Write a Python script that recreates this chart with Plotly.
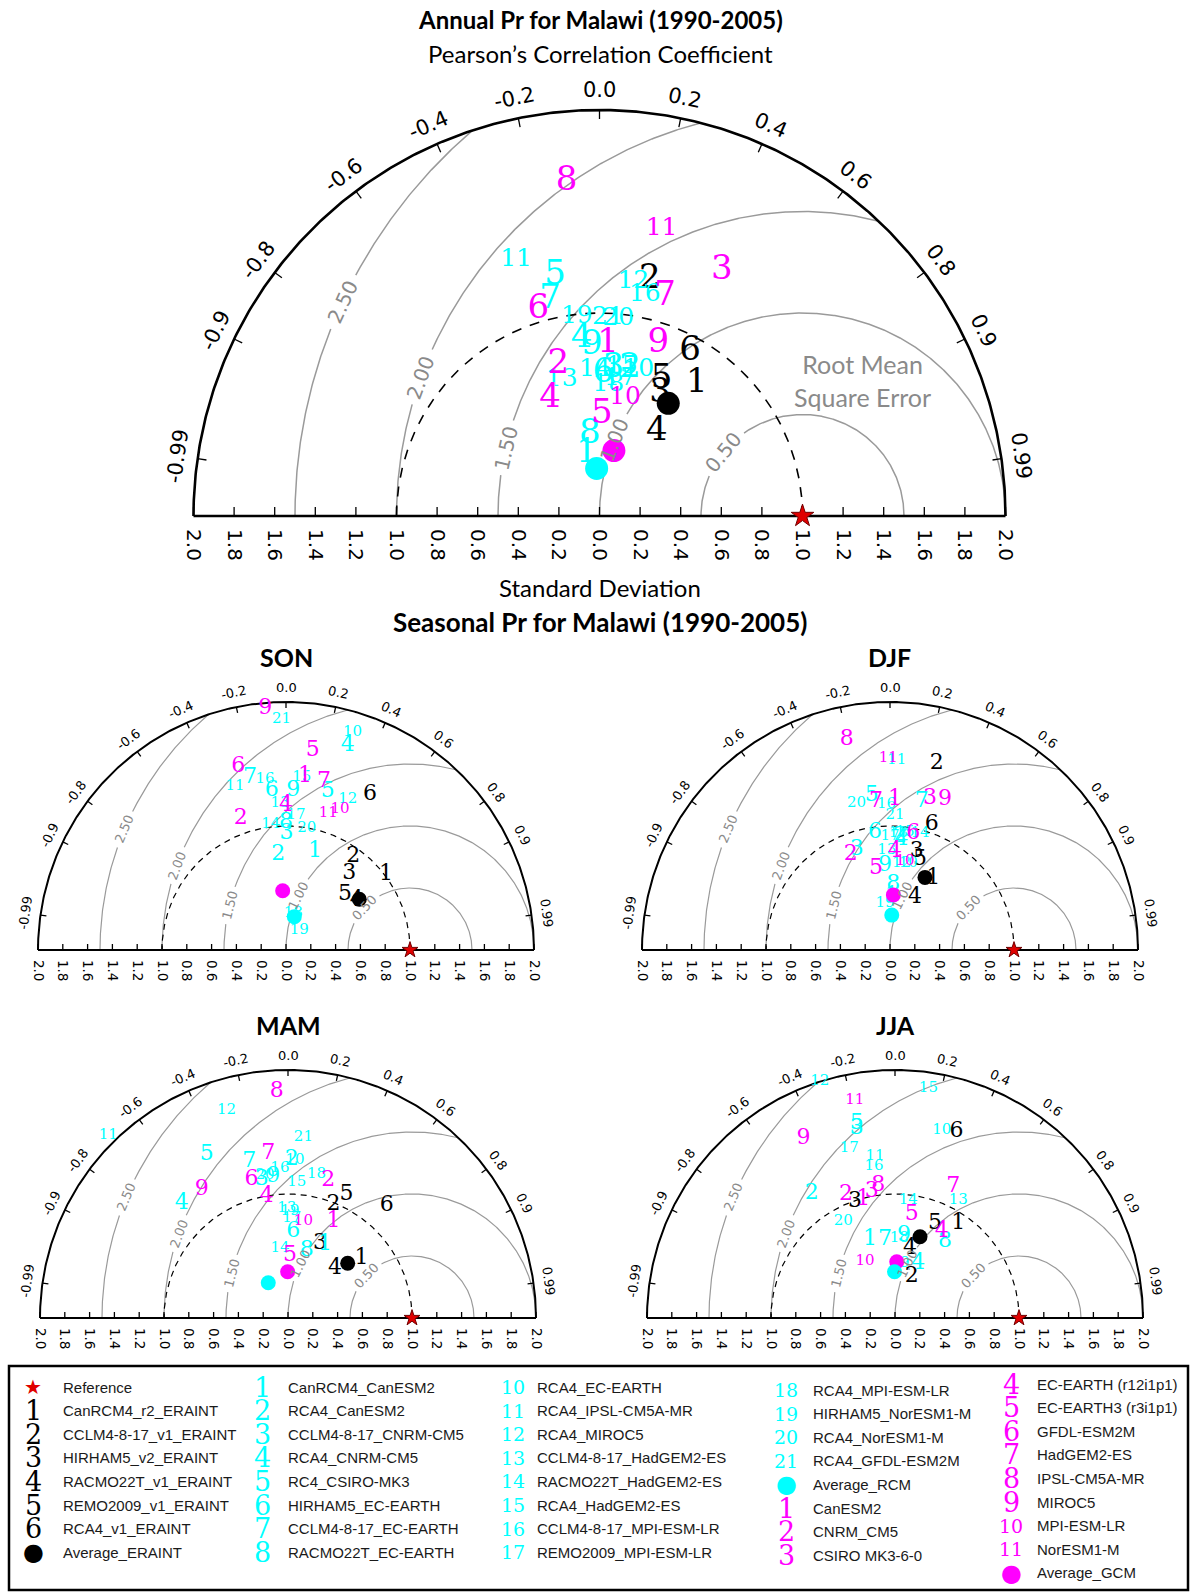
import numpy as np
import plotly.graph_objects as go

W, H = 1192, 1594
CYAN, MAG, BLK = "#00ffff", "#ff00ff", "#000000"

# ---------------- tick definitions ----------------
corr_tick_vals = [-0.99, -0.9, -0.8, -0.6, -0.4, -0.2, 0.0, 0.2, 0.4, 0.6, 0.8, 0.9, 0.99]
corr_tick_text = ["-0.99", "-0.9", "-0.8", "-0.6", "-0.4", "-0.2", "0.0", "0.2", "0.4", "0.6", "0.8", "0.9", "0.99"]
std_tick_vals = [-2.0, -1.8, -1.6, -1.4, -1.2, -1.0, -0.8, -0.6, -0.4, -0.2, 0.0,
                 0.2, 0.4, 0.6, 0.8, 1.0, 1.2, 1.4, 1.6, 1.8, 2.0]
std_tick_text = ["2.0", "1.8", "1.6", "1.4", "1.2", "1.0", "0.8", "0.6", "0.4", "0.2", "0.0",
                 "0.2", "0.4", "0.6", "0.8", "1.0", "1.2", "1.4", "1.6", "1.8", "2.0"]
rmse_levels = [0.5, 1.0, 1.5, 2.0, 2.5]
rmse_text = ["0.50", "1.00", "1.50", "2.00", "2.50"]
ref_std, ref_corr = 1.0, 1.0

# ---------------- data: (std, corr) ----------------
# Annual
annual_eraint_id = [1, 2, 3, 4, 5, 6]
annual_eraint_std = [0.811, 1.189, 0.673, 0.502, 0.737, 0.924]
annual_eraint_corr = [0.591, 0.209, 0.443, 0.562, 0.415, 0.483]
annual_eraint_avg = [0.650, 0.521]
annual_rcm_id = list(range(1, 22))
annual_rcm_std = [0.315, 0.743, 0.731, 0.879, 1.207, 0.703, 1.092, 0.402, 0.843, 0.744, 1.326,
                  1.166, 0.695, 0.719, 0.744, 1.112, 0.685, 0.646, 0.988, 0.978, 0.976]
annual_rcm_corr = [-0.200, 0.202, 0.093, -0.100, -0.181, 0.027, -0.223, -0.117, -0.045, 0.257, -0.310,
                   0.143, -0.268, -0.031, 0.147, 0.201, 0.147, 0.067, -0.113, 0.095, 0.043]
annual_rcm_avg = [0.235, -0.060]
annual_gcm_id = list(range(1, 12))
annual_gcm_std = [0.852, 0.771, 1.353, 0.629, 0.498, 1.059, 1.127, 1.655, 0.899, 0.594, 1.450]
annual_gcm_corr = [0.050, -0.263, 0.445, -0.388, 0.022, -0.284, 0.287, -0.098, 0.323, 0.212, 0.211]
annual_gcm_avg = [0.330, 0.215]

# SON
son_eraint_id = [1, 2, 3, 4, 5, 6]
son_eraint_std = [1.008, 0.928, 0.803, 0.698, 0.651, 1.422]
son_eraint_corr = [0.800, 0.585, 0.636, 0.817, 0.731, 0.476]
son_eraint_avg = [0.719, 0.822]
son_rcm_id = list(range(1, 22))
son_rcm_std = [0.827, 0.769, 0.941, 1.719, 1.320, 1.295, 1.423, 1.027, 1.286, 1.840, 1.380,
               1.313, 1.184, 1.021, 1.399, 1.387, 1.092, 0.302, 0.189, 0.995, 1.860]
son_rcm_corr = [0.283, -0.081, 0.005, 0.290, 0.255, -0.089, -0.204, 0.000, 0.046, 0.292, -0.298,
                0.379, -0.041, -0.120, 0.091, -0.122, 0.074, 0.195, 0.566, 0.168, -0.019]
son_rcm_avg = [0.277, 0.242]
son_gcm_id = [1, 2, 4, 5, 6, 7, 9, 10, 11]
son_gcm_std = [1.406, 1.123, 1.169, 1.627, 1.527, 1.391, 1.956, 1.215, 1.154]
son_gcm_corr = [0.109, -0.325, 0.000, 0.132, -0.252, 0.220, -0.086, 0.358, 0.296]
son_gcm_avg = [0.479, -0.056]

# DJF
djf_eraint_id = [1, 2, 3, 4, 5, 6]
djf_eraint_std = [0.675, 1.552, 0.822, 0.471, 0.765, 1.063]
djf_eraint_corr = [0.517, 0.243, 0.262, 0.429, 0.316, 0.316]
djf_eraint_avg = [0.650, 0.434]
djf_rcm_id = list(range(1, 22))
djf_rcm_std = [0.430, 0.918, 0.850, 0.892, 1.251, 0.954, 1.223, 0.525, 0.686, 0.719, 1.533,
               0.705, 0.806, 0.976, 0.954, 1.177, 0.914, 0.943, 0.379, 1.213, 1.090]
djf_rcm_corr = [0.033, 0.088, -0.316, 0.105, -0.118, -0.127, 0.209, 0.051, -0.058, 0.206, 0.035,
                0.133, -0.033, 0.248, 0.127, -0.023, 0.000, 0.071, -0.106, -0.222, 0.037]
djf_rcm_avg = [0.282, 0.050]
djf_gcm_id = list(range(1, 12))
djf_gcm_std = [1.211, 0.829, 1.260, 0.794, 0.669, 0.960, 1.201, 1.730, 1.296, 0.722, 1.546]
djf_gcm_corr = [0.033, -0.382, 0.256, 0.050, -0.169, 0.196, -0.094, -0.202, 0.343, 0.168, -0.009]
djf_gcm_avg = [0.445, 0.061]

# MAM
mam_eraint_id = [1, 2, 3, 4, 5, 6]
mam_eraint_std = [0.764, 0.989, 0.655, 0.552, 1.099, 1.210]
mam_eraint_corr = [0.777, 0.370, 0.394, 0.687, 0.430, 0.658]
mam_eraint_avg = [0.653, 0.737]
mam_rcm_id = list(range(1, 22))
mam_rcm_std = [0.660, 1.280, 1.133, 1.261, 1.470, 0.697, 1.299, 0.568, 1.146, 1.275, 2.068,
               1.749, 0.885, 0.566, 1.101, 1.209, 0.805, 1.184, 0.857, 1.168, 1.462]
mam_rcm_corr = [0.452, 0.023, -0.187, -0.680, -0.446, 0.062, -0.240, 0.266, -0.103, 0.044, -0.701,
                -0.283, -0.012, -0.115, 0.064, -0.054, 0.037, 0.195, 0.019, -0.158, 0.085]
mam_rcm_avg = [0.326, -0.488]
mam_gcm_id = [1, 2, 4, 5, 6, 7, 8, 9, 10]
mam_gcm_std = [0.859, 1.159, 0.993, 0.508, 1.151, 1.337, 1.827, 1.245, 0.787]
mam_gcm_corr = [0.426, 0.280, -0.173, 0.031, -0.255, -0.119, -0.050, -0.559, 0.158]
mam_gcm_avg = [0.373, -0.008]

# JJA
jja_eraint_id = [1, 2, 3, 4, 5, 6]
jja_eraint_std = [0.919, 0.359, 0.992, 0.575, 0.829, 1.582]
jja_eraint_corr = [0.556, 0.376, -0.326, 0.210, 0.390, 0.314]
jja_eraint_avg = [0.686, 0.294]
jja_rcm_id = [1, 2, 3, 4, 5, 7, 8, 9, 10, 11, 12, 13, 14, 15, 16, 17, 18, 19, 20]
jja_rcm_std = [0.661, 1.210, 1.561, 0.479, 1.600, 0.640, 0.735, 0.673, 1.557, 1.311, 2.000,
               1.080, 0.958, 1.871, 1.238, 1.418, 0.644, 0.443, 0.882]
jja_rcm_corr = [-0.306, -0.555, -0.198, 0.392, -0.193, -0.127, 0.548, 0.108, 0.242, -0.123, -0.303,
                0.473, 0.112, 0.144, -0.137, -0.260, 0.054, 0.090, -0.473]
jja_rcm_avg = [0.373, -0.010]
jja_gcm_id = [1, 2, 3, 4, 5, 7, 8, 9, 10, 11]
jja_gcm_std = [0.986, 1.068, 1.036, 0.792, 0.842, 1.159, 1.081, 1.627, 0.514, 1.787]
jja_gcm_corr = [-0.259, -0.370, -0.181, 0.476, 0.160, 0.406, -0.125, -0.454, -0.470, -0.181]
jja_gcm_avg = [0.454, 0.031]

# legend
legend_col1 = ["Reference", "CanRCM4_r2_ERAINT", "CCLM4-8-17_v1_ERAINT", "HIRHAM5_v2_ERAINT",
               "RACMO22T_v1_ERAINT", "REMO2009_v1_ERAINT", "RCA4_v1_ERAINT", "Average_ERAINT"]
legend_col2 = ["CanRCM4_CanESM2", "RCA4_CanESM2", "CCLM4-8-17_CNRM-CM5", "RCA4_CNRM-CM5",
               "RC4_CSIRO-MK3", "HIRHAM5_EC-EARTH", "CCLM4-8-17_EC-EARTH", "RACMO22T_EC-EARTH"]
legend_col3 = ["RCA4_EC-EARTH", "RCA4_IPSL-CM5A-MR", "RCA4_MIROC5", "CCLM4-8-17_HadGEM2-ES",
               "RACMO22T_HadGEM2-ES", "RCA4_HadGEM2-ES", "CCLM4-8-17_MPI-ESM-LR", "REMO2009_MPI-ESM-LR"]
legend_col4 = ["RCA4_MPI-ESM-LR", "HIRHAM5_NorESM1-M", "RCA4_NorESM1-M", "RCA4_GFDL-ESM2M",
               "Average_RCM", "CanESM2", "CNRM_CM5", "CSIRO MK3-6-0"]
legend_col5 = ["EC-EARTH (r12i1p1)", "EC-EARTH3 (r3i1p1)", "GFDL-ESM2M", "HadGEM2-ES",
               "IPSL-CM5A-MR", "MIROC5", "MPI-ESM-LR", "NorESM1-M", "Average_GCM"]
legend_sym1 = [("★", "#e00000"), ("1", BLK), ("2", BLK), ("3", BLK), ("4", BLK), ("5", BLK), ("6", BLK), ("●", BLK)]
legend_sym2 = [(str(i), CYAN) for i in range(1, 9)]
legend_sym3 = [(str(i), CYAN) for i in range(10, 18)]
legend_sym4 = [(str(i), CYAN) for i in range(18, 22)] + [("●", CYAN), ("1", MAG), ("2", MAG), ("3", MAG)]
legend_sym5 = [(str(i), MAG) for i in range(4, 12)] + [("●", MAG)]

# ---------------- panels ----------------
BIG = dict(tickf=20, corrf=21, rmsf=20, n1=34, n2=25, avg=23, star=17, lw=2.6, rlab=2.1, tl=9,
           rms_ang=[141, 158, 167, 160, 155])
SMALL = dict(tickf=13.5, corrf=13, rmsf=13, n1=22, n2=15, avg=15, star=12, lw=2.0, rlab=2.12, tl=6,
             rms_ang=[137, 154, 166, 160, 157])
panels = [
    dict(title=None, cx=599.5, by=516, s=203,
         eraint=(annual_eraint_id, annual_eraint_std, annual_eraint_corr, annual_eraint_avg),
         rcm=(annual_rcm_id, annual_rcm_std, annual_rcm_corr, annual_rcm_avg),
         gcm=(annual_gcm_id, annual_gcm_std, annual_gcm_corr, annual_gcm_avg), **BIG),
    dict(title="SON", cx=286, by=950, s=124,
         eraint=(son_eraint_id, son_eraint_std, son_eraint_corr, son_eraint_avg),
         rcm=(son_rcm_id, son_rcm_std, son_rcm_corr, son_rcm_avg),
         gcm=(son_gcm_id, son_gcm_std, son_gcm_corr, son_gcm_avg), **SMALL),
    dict(title="DJF", cx=890, by=950, s=124,
         eraint=(djf_eraint_id, djf_eraint_std, djf_eraint_corr, djf_eraint_avg),
         rcm=(djf_rcm_id, djf_rcm_std, djf_rcm_corr, djf_rcm_avg),
         gcm=(djf_gcm_id, djf_gcm_std, djf_gcm_corr, djf_gcm_avg), **SMALL),
    dict(title="MAM", cx=288, by=1318, s=124,
         eraint=(mam_eraint_id, mam_eraint_std, mam_eraint_corr, mam_eraint_avg),
         rcm=(mam_rcm_id, mam_rcm_std, mam_rcm_corr, mam_rcm_avg),
         gcm=(mam_gcm_id, mam_gcm_std, mam_gcm_corr, mam_gcm_avg), **SMALL),
    dict(title="JJA", cx=895, by=1318, s=124,
         eraint=(jja_eraint_id, jja_eraint_std, jja_eraint_corr, jja_eraint_avg),
         rcm=(jja_rcm_id, jja_rcm_std, jja_rcm_corr, jja_rcm_avg),
         gcm=(jja_gcm_id, jja_gcm_std, jja_gcm_corr, jja_gcm_avg), **SMALL),
]

NUMFONT = "DejaVu Serif"
MX, MT, MB = 0.3, 0.3, 0.04


def to_xy(std, corr):
    std = np.asarray(std, float)
    corr = np.clip(np.asarray(corr, float), -1, 1)
    return std * corr, std * np.sqrt(1 - corr ** 2)


fig = go.Figure()
annotations = []
layout_axes = {}

for i, p in enumerate(panels, start=1):
    sfx = "" if i == 1 else str(i)
    xa, ya = "x" + sfx, "y" + sfx
    s = p["s"]
    layout_axes["xaxis" + sfx] = dict(
        domain=[(p["cx"] - (2 + MX) * s) / W, (p["cx"] + (2 + MX) * s) / W],
        range=[-2 - MX, 2 + MX], anchor=ya, tickmode="array", tickvals=std_tick_vals,
        ticktext=std_tick_text, tickangle=90, showgrid=False, zeroline=False, showline=False,
        ticks="", ticklabelstandoff=4,
        tickfont=dict(family="DejaVu Sans", size=p["tickf"], color="black"), fixedrange=True)
    layout_axes["yaxis" + sfx] = dict(
        domain=[1 - (p["by"] + MB * s) / H, 1 - (p["by"] - (2 + MT) * s) / H],
        range=[-MB, 2 + MT], anchor=xa, visible=False, fixedrange=True)

    def add_line(x, y, color, width, dash="solid"):
        fig.add_trace(go.Scatter(x=x, y=y, xaxis=xa, yaxis=ya, mode="lines",
                                 line=dict(color=color, width=width, dash=dash),
                                 hoverinfo="skip", showlegend=False))

    # RMSE contours (with a gap where the inline label sits)
    phi = np.linspace(0, np.pi, 700)
    cx_all, cy_all = [], []
    for lev, ang in zip(rmse_levels, p["rms_ang"]):
        x = ref_std + lev * np.cos(phi)
        y = lev * np.sin(phi)
        half = (1.3 * p["rmsf"] + 2) / (lev * s)
        mask = (x ** 2 + y ** 2 > 4.0) | (np.abs(phi - np.radians(ang)) < half)
        x = np.where(mask, np.nan, x)
        y = np.where(mask, np.nan, y)
        cx_all += list(x) + [None]
        cy_all += list(y) + [None]
    add_line(cx_all, cy_all, "#9a9a9a", 1.5 if i == 1 else 1.2)

    # dashed reference std arc
    th = np.linspace(0, np.pi, 400)
    add_line(ref_std * np.cos(th), ref_std * np.sin(th), BLK, 1.6 if i == 1 else 1.2,
             "10px,9px" if i == 1 else "6px,5px")

    # outer arc and baseline
    add_line(2 * np.cos(th), 2 * np.sin(th), BLK, p["lw"])
    add_line([-2, 2], [0, 0], BLK, p["lw"])

    # std ticks
    tlu = p["tl"] / s
    tx, ty = [], []
    for v in std_tick_vals:
        tx += [v, v, None]
        ty += [0, tlu, None]
    add_line(tx, ty, BLK, 1.3)
    # correlation ticks
    tx, ty = [], []
    for c in corr_tick_vals:
        a = np.arccos(c)
        tx += [2 * np.cos(a), (2 - tlu) * np.cos(a), None]
        ty += [2 * np.sin(a), (2 - tlu) * np.sin(a), None]
    add_line(tx, ty, BLK, 1.3)

    # correlation labels
    for c, t in zip(corr_tick_vals, corr_tick_text):
        a = np.arccos(c)
        annotations.append(dict(x=p["rlab"] * np.cos(a), y=p["rlab"] * np.sin(a), xref=xa, yref=ya,
                                text=t, showarrow=False, textangle=90 - np.degrees(a),
                                xanchor="center", yanchor="middle",
                                font=dict(family="DejaVu Sans", size=p["corrf"], color="black")))
    # RMSE labels
    for lev, t, ang in zip(rmse_levels, rmse_text, p["rms_ang"]):
        a = np.radians(ang)
        annotations.append(dict(x=ref_std + lev * np.cos(a), y=lev * np.sin(a), xref=xa, yref=ya,
                                text=t, showarrow=False, textangle=90 - ang,
                                xanchor="center", yanchor="middle",
                                font=dict(family="DejaVu Sans", size=p["rmsf"], color="#8a8a8a")))

    # numbered model labels
    for key, col in (("eraint", BLK), ("rcm", CYAN), ("gcm", MAG)):
        ids, sd, cr, _ = p[key]
        x, y = to_xy(sd, cr)
        sizes = [p["n1"] if k < 10 else p["n2"] for k in ids]
        fig.add_trace(go.Scatter(x=x, y=y, xaxis=xa, yaxis=ya, mode="text",
                                 text=[str(k) for k in ids], textposition="middle center",
                                 textfont=dict(family=NUMFONT, size=sizes, color=col),
                                 cliponaxis=False, hoverinfo="skip", showlegend=False))
    # averages
    for key, col in (("eraint", BLK), ("gcm", MAG), ("rcm", CYAN)):
        avg = p[key][3]
        x, y = to_xy([avg[0]], [avg[1]])
        fig.add_trace(go.Scatter(x=x, y=y, xaxis=xa, yaxis=ya, mode="markers",
                                 marker=dict(size=p["avg"], color=col, line=dict(width=0)),
                                 cliponaxis=False, hoverinfo="skip", showlegend=False))
    # reference star
    x, y = to_xy([ref_std], [ref_corr])
    fig.add_trace(go.Scatter(x=x, y=y, xaxis=xa, yaxis=ya, mode="markers",
                             marker=dict(symbol="star", size=p["star"], color="#e00000",
                                         line=dict(color="#700000", width=1)),
                             cliponaxis=False, hoverinfo="skip", showlegend=False))

    if p["title"]:
        annotations.append(dict(x=p["cx"] / W, y=1 - (p["by"] - 293) / H, xref="paper", yref="paper",
                                text="<b>%s</b>" % p["title"], showarrow=False,
                                xanchor="center", yanchor="middle",
                                font=dict(family="Lato", size=25, color="black")))


def paper_text(px, py, text, size, color="black", bold=False, xanchor="center", family="Lato"):
    annotations.append(dict(x=px / W, y=1 - py / H, xref="paper", yref="paper",
                            text=("<b>%s</b>" % text) if bold else text, showarrow=False,
                            xanchor=xanchor, yanchor="middle",
                            font=dict(family=family, size=size, color=color)))


paper_text(600, 19, "Annual Pr for Malawi (1990-2005)", 24, bold=True)
paper_text(600, 53, "Pearson’s Correlation Coefficient", 24)
paper_text(600, 587, "Standard Deviation", 24)
paper_text(600, 622, "Seasonal Pr for Malawi (1990-2005)", 26, bold=True)
annotations.append(dict(x=862 / W, y=1 - 380 / H, xref="paper", yref="paper",
                        text="Root Mean<br>Square Error", showarrow=False, align="center",
                        xanchor="center", yanchor="middle",
                        font=dict(family="Lato", size=25, color="#8a8a8a")))

# ---------------- legend ----------------
cols = [
    (legend_sym1, legend_col1, 33, 61, 1387),
    (legend_sym2, legend_col2, 262, 286, 1387),
    (legend_sym3, legend_col3, 513, 535, 1387),
    (legend_sym4, legend_col4, 786, 811, 1390),
    (legend_sym5, legend_col5, 1011, 1035, 1384),
]
ROW = 23.6
for syms, labels, sx, tx, y0 in cols:
    for r, ((sym, col), lab) in enumerate(zip(syms, labels)):
        yy = y0 + r * ROW
        if sym == "★":
            paper_text(sx, yy, sym, 20, color=col, family="DejaVu Sans")
        elif sym == "●":
            paper_text(sx, yy, sym, 24, color=col, family="DejaVu Sans")
        else:
            paper_text(sx, yy, sym, 27 if len(sym) == 1 else 19, color=col, family=NUMFONT)
        paper_text(tx, yy, lab, 15, color="#1a1a1a", xanchor="left", family="Liberation Sans")

fig.update_layout(
    width=W, height=H, margin=dict(l=0, r=0, t=0, b=0),
    paper_bgcolor="white", plot_bgcolor="rgba(0,0,0,0)",
    showlegend=False, annotations=annotations,
    shapes=[dict(type="rect", xref="paper", yref="paper", x0=9 / W, x1=1188 / W,
                 y0=1 - 1590 / H, y1=1 - 1366 / H, line=dict(color="black", width=2.5))],
    **layout_axes,
)
fig.write_html("out.html")
